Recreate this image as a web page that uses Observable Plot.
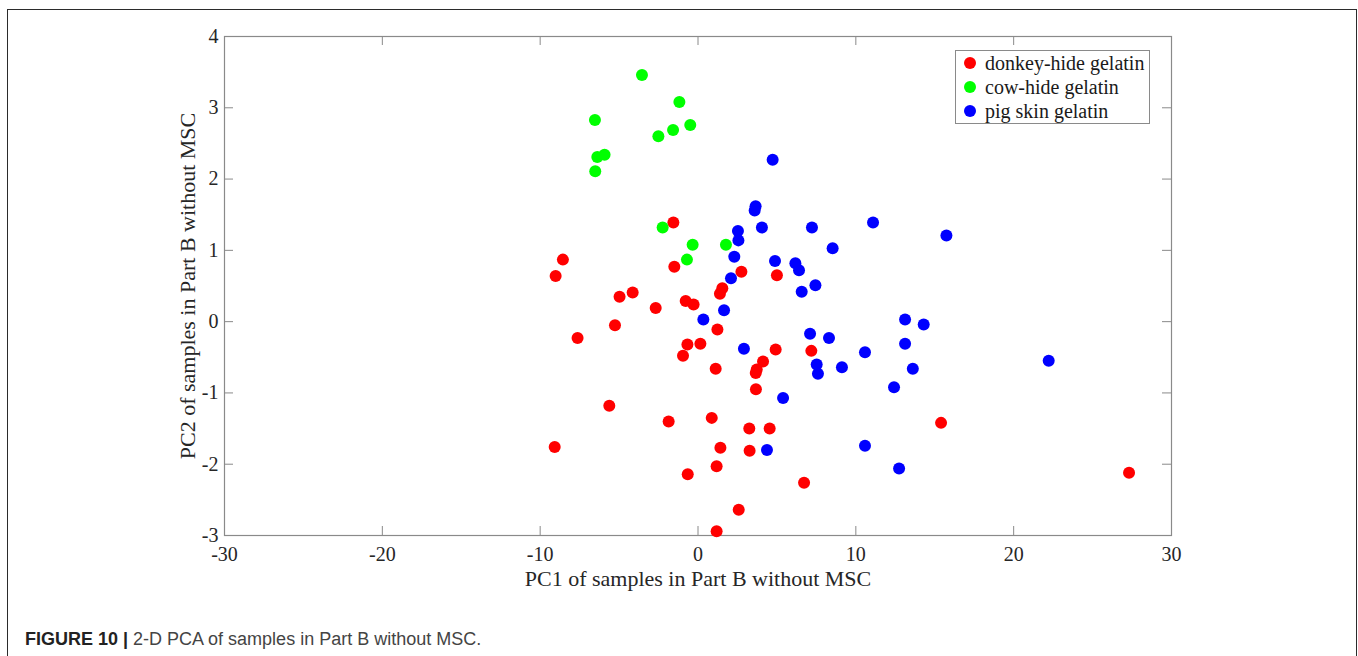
<!DOCTYPE html>
<html>
<head>
<meta charset="utf-8">
<script src="https://cdn.jsdelivr.net/npm/d3@7"></script>
<script src="https://cdn.jsdelivr.net/npm/@observablehq/plot@0.6"></script>
<style>
  html, body { margin: 0; padding: 0; background: #fff; overflow: hidden; }
  #fig { position: relative; width: 1358px; height: 656px; }
  #border { position: absolute; left: 7px; top: 9px; width: 1350px; height: 720px;
            border: 1.5px solid #2b2b2b; border-bottom: none; box-sizing: border-box; }
  #chart { position: absolute; left: 0; top: 0; }
  #legend { position: absolute; left: 955px; top: 50px; width: 195px; height: 74px;
            border: 1px solid #8a8a8a; background: #fff; box-sizing: border-box;
            font-family: "Liberation Serif", serif; font-size: 20px; color: #1a1a1a; }
  .item { position: relative; height: 24px; line-height: 24px; padding-left: 29px; white-space: nowrap; }
  .sw { position: absolute; left: 8px; top: 6px; width: 12px; height: 12px; border-radius: 50%; }
  #caption { position: absolute; left: 25px; top: 630px; font-family: "Liberation Sans", Arial, sans-serif;
             font-size: 18px; line-height: 18px; color: #444; white-space: nowrap; }
  #caption b { color: #222; }
</style>
</head>
<body>
<div id="fig">
  <div id="border"></div>
  <div id="chart"></div>
  <div id="legend"></div>
  <div id="caption"><b>FIGURE 10 |</b> 2-D PCA of samples in Part B without MSC.</div>
</div>
<script>
// PCA scores (PC1, PC2) per gelatin type
const donkeyHide = [
  [-1.56, 1.39], [-8.56, 0.87], [-9.02, 0.64], [-1.50, 0.77], [-4.97, 0.35],
  [-4.14, 0.41], [-2.68, 0.19], [-0.78, 0.29], [-0.28, 0.24], [-5.26, -0.05],
  [-7.63, -0.23], [1.23, -0.11], [-0.67, -0.32], [0.15, -0.31], [-0.95, -0.48],
  [1.12, -0.66], [-5.62, -1.18], [-1.86, -1.40], [0.87, -1.35], [-9.08, -1.76],
  [1.42, -1.77], [1.18, -2.03], [-0.65, -2.14], [1.18, -2.94], [1.54, 0.47],
  [1.39, 0.39], [2.75, 0.70], [5.00, 0.65], [4.92, -0.39], [7.18, -0.41],
  [4.12, -0.56], [3.72, -0.67], [3.66, -0.72], [3.67, -0.95], [3.25, -1.50],
  [4.54, -1.50], [3.27, -1.81], [6.72, -2.26], [2.58, -2.64], [15.40, -1.42],
  [27.31, -2.12]
];
const cowHide = [
  [-3.55, 3.46], [-1.18, 3.08], [-6.53, 2.83], [-0.49, 2.76], [-1.58, 2.69],
  [-2.51, 2.60], [-5.92, 2.34], [-6.38, 2.31], [-6.51, 2.11], [-2.24, 1.32],
  [-0.34, 1.08], [-0.70, 0.87], [1.77, 1.08]
];
const pigSkin = [
  [4.73, 2.27], [3.65, 1.62], [3.59, 1.56], [4.05, 1.32], [7.22, 1.32],
  [11.09, 1.39], [2.53, 1.27], [2.56, 1.14], [8.53, 1.03], [2.30, 0.91],
  [4.88, 0.85], [6.17, 0.82], [6.40, 0.72], [2.09, 0.61], [7.44, 0.51],
  [6.57, 0.42], [15.74, 1.21], [1.65, 0.16], [2.91, -0.38], [7.10, -0.17],
  [8.30, -0.23], [7.52, -0.60], [7.60, -0.73], [9.12, -0.64], [10.58, -0.43],
  [13.12, 0.03], [13.12, -0.31], [12.42, -0.92], [5.39, -1.07], [4.37, -1.80],
  [10.58, -1.74], [12.74, -2.06], [14.30, -0.04], [13.61, -0.66], [22.22, -0.55],
  [0.34, 0.03]
];

const groupNames = ["donkey-hide gelatin", "cow-hide gelatin", "pig skin gelatin"];
const groupColors = ["#ff0000", "#00ff00", "#0000ff"];
const xTicks = [-30, -20, -10, 0, 10, 20, 30];
const yTicks = [-3, -2, -1, 0, 1, 2, 3, 4];
const xLabel = "PC1 of samples in Part B without MSC";
const yLabel = "PC2 of samples in Part B without MSC";

const points = [donkeyHide, cowHide, pigSkin].flatMap((pts, i) =>
  pts.map(([x, y]) => ({x, y, group: groupNames[i]}))
);

const W = 1358, H = 600;
const mL = 224, mR = 187, mT = 36, mB = 65;
const innerW = W - mL - mR, innerH = H - mT - mB;
const tickLen = 9;
const axisGray = "#8a8a8a";

const chart = Plot.plot({
  width: W,
  height: H,
  marginLeft: mL,
  marginRight: mR,
  marginTop: mT,
  marginBottom: mB,
  style: {fontFamily: "'Liberation Serif', serif", fontSize: "20px", color: "#262626", background: "transparent"},
  x: {domain: [-30, 30]},
  y: {domain: [-3, 4]},
  color: {domain: groupNames, range: groupColors},
  marks: [
    Plot.frame({stroke: axisGray, strokeWidth: 1.2}),
    // inward tick marks on all four sides
    Plot.tickX(xTicks.slice(1, -1), {x: d => d, insetTop: innerH - tickLen, stroke: axisGray}),
    Plot.tickX(xTicks.slice(1, -1), {x: d => d, insetBottom: innerH - tickLen, stroke: axisGray}),
    Plot.tickY(yTicks.slice(1, -1), {y: d => d, insetRight: innerW - tickLen, stroke: axisGray}),
    Plot.tickY(yTicks.slice(1, -1), {y: d => d, insetLeft: innerW - tickLen, stroke: axisGray}),
    Plot.axisX({ticks: xTicks, tickSize: 0, tickPadding: 11, label: null, tickFormat: d => String(d)}),
    Plot.axisY({ticks: yTicks, tickSize: 0, tickPadding: 6, label: null, tickFormat: d => String(d)}),
    Plot.dot(points, {x: "x", y: "y", fill: "group", r: 6}),
    Plot.text([xLabel], {text: d => d, frameAnchor: "bottom", textAnchor: "middle", lineAnchor: "middle",
                         dy: 43, fontSize: 22, fill: "#262626"}),
    Plot.text([yLabel], {text: d => d, frameAnchor: "left", textAnchor: "middle", lineAnchor: "middle",
                         dx: -37, rotate: -90, fontSize: 22, fill: "#262626"})
  ]
});
document.getElementById("chart").appendChild(chart);

// legend box inside the plot area
const legend = document.getElementById("legend");
groupNames.forEach((name, i) => {
  const item = document.createElement("div");
  item.className = "item";
  const sw = document.createElement("span");
  sw.className = "sw";
  sw.style.background = groupColors[i];
  item.appendChild(sw);
  item.appendChild(document.createTextNode(name));
  legend.appendChild(item);
});
</script>
</body>
</html>
